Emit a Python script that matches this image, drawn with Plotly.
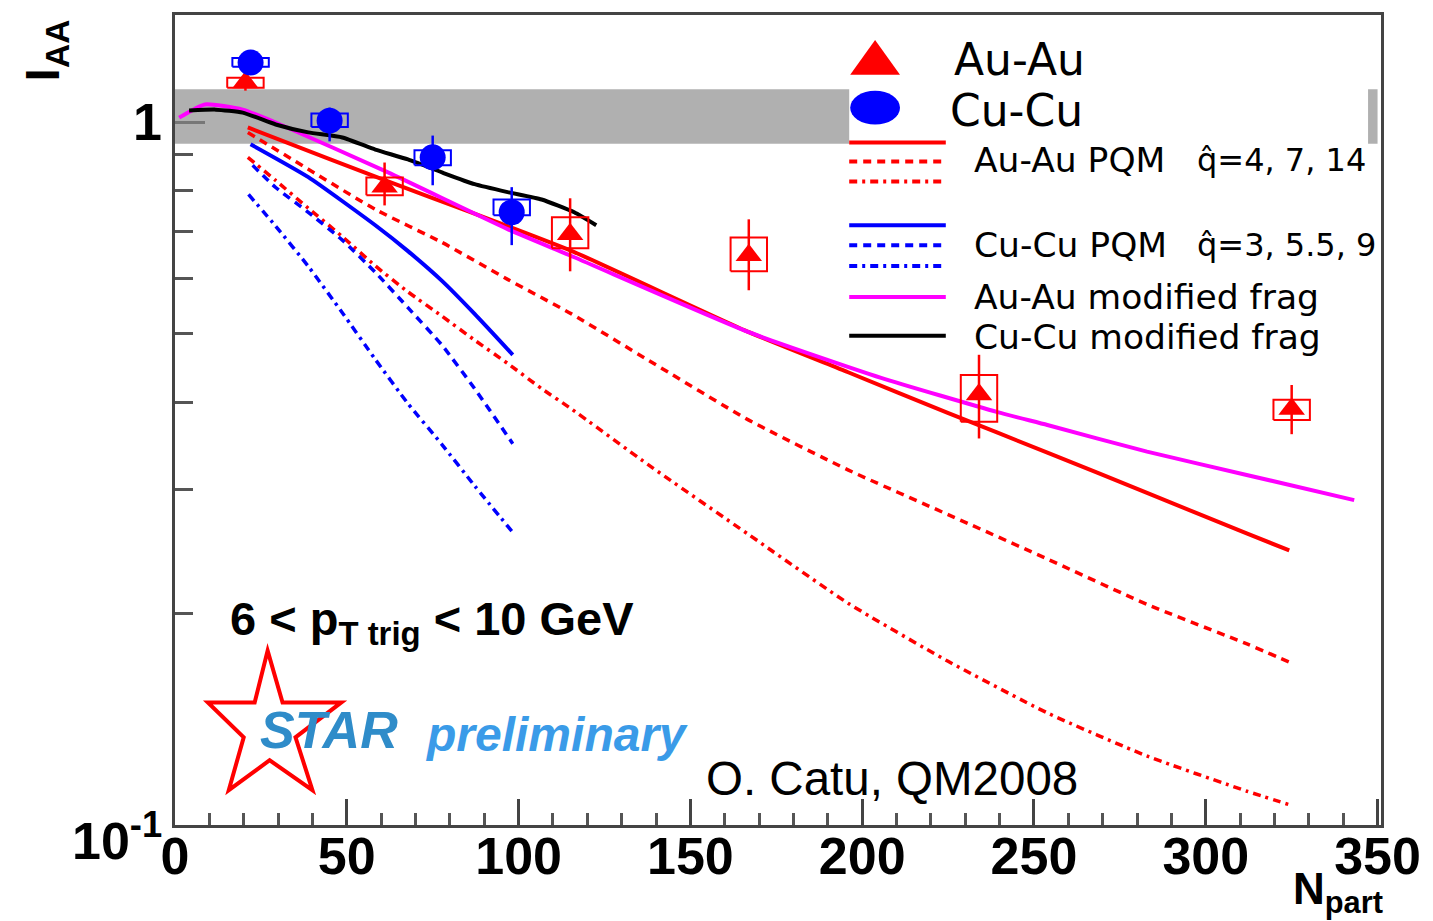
import numpy as np
import plotly.graph_objects as go

# ---------------- data ----------------
au_npart   = [20.5, 61, 115, 167, 234, 325]
au_iaa     = [1.14, 0.81, 0.693, 0.647, 0.410, 0.391]
au_stat_hi = [1.17, 0.877, 0.780, 0.728, 0.467, 0.423]
au_stat_lo = [1.11, 0.762, 0.614, 0.577, 0.355, 0.360]
au_sys_hi  = [1.158, 0.835, 0.733, 0.686, 0.437, 0.403]
au_sys_lo  = [1.121, 0.788, 0.662, 0.614, 0.375, 0.377]

cu_npart   = [22, 45, 75, 98]
cu_iaa     = [1.217, 1.006, 0.892, 0.745]
cu_stat_hi = [1.25, 1.05, 0.958, 0.809]
cu_stat_lo = [1.19, 0.94, 0.814, 0.669]
cu_sys_hi  = [1.235, 1.03, 0.913, 0.777]
cu_sys_lo  = [1.20, 0.985, 0.869, 0.738]
sys_halfwidth = 5.3

# normalisation band
band_x = [0, 350]
band_lo, band_hi = 0.933, 1.115

# PQM Au-Au (qhat = 4, 7, 14)
au_q4_n  = [21.2, 45.2, 74.2, 96.8, 116.2, 167, 195.9, 224.9, 253.9, 282.9, 311.9, 324.3]
au_q4_y  = [0.984, 0.886, 0.783, 0.712, 0.654, 0.503, 0.441, 0.386, 0.339, 0.297, 0.260, 0.246]
au_q7_n  = [21.2, 38.8, 58.3, 77.7, 96.8, 115.4, 138, 167, 196, 225, 254, 283, 312, 325]
au_q7_y  = [0.968, 0.858, 0.752, 0.675, 0.598, 0.534, 0.458, 0.377, 0.320, 0.2766, 0.239, 0.206, 0.181, 0.170]
au_q14_n = [21.2, 29.3, 38.8, 48.7, 58.3, 67.8, 77.7, 87.2, 96.8, 106.7, 115.4, 138, 167, 196, 225, 254, 283, 312, 324]
au_q14_y = [0.892, 0.827, 0.755, 0.688, 0.625, 0.574, 0.530, 0.490, 0.454, 0.418, 0.391, 0.325, 0.259, 0.2067, 0.171, 0.1443, 0.1253, 0.1117, 0.107]

# PQM Cu-Cu (qhat = 3, 5.5, 9)
cu_q3_n  = [22, 38.8, 58.3, 67.8, 77.7, 87.2, 98.3]
cu_q3_y  = [0.931, 0.836, 0.714, 0.656, 0.595, 0.534, 0.467]
cu_q55_n = [22.6, 29.3, 38.8, 48.7, 58.3, 67.8, 77.7, 87.2, 98.3]
cu_q55_y = [0.869, 0.808, 0.745, 0.680, 0.612, 0.545, 0.482, 0.418, 0.349]
cu_q9_n  = [21.4, 29.3, 38.8, 48.7, 58.3, 67.8, 77.7, 87.2, 98]
cu_q9_y  = [0.790, 0.712, 0.624, 0.536, 0.460, 0.398, 0.348, 0.304, 0.262]

# modified fragmentation
au_mf_n = [1.2, 8.7, 19.7, 29.3, 62.0, 96.8, 116.2, 167, 205.5, 239.4, 253.9, 282.9, 311.9, 343.2]
au_mf_y = [1.016, 1.061, 1.043, 1.0, 0.849, 0.705, 0.643, 0.503, 0.433, 0.387, 0.371, 0.340, 0.315, 0.290]
cu_mf_n = [4.1, 11.9, 19.7, 29.3, 38.8, 48.7, 58.3, 67.8, 77.7, 87.2, 96.8, 106.7, 116.2, 122.6]
cu_mf_y = [1.040, 1.043, 1.033, 0.9935, 0.968, 0.952, 0.915, 0.886, 0.849, 0.817, 0.796, 0.777, 0.745, 0.714]

x_major = [0, 50, 100, 150, 200, 250, 300, 350]
y_major = [0.1, 1]
y_major_text = ["10<sup>-1</sup>", "1"]
y_minor = [0.2, 0.3, 0.4, 0.5, 0.6, 0.7, 0.8, 0.9]

# ---------------- layout geometry ----------------
W, H = 1433, 921
ML, MR, MT, MB = 175, 47, 12, 96
PW, PH = W - ML - MR, H - MT - MB


def px(p):
    return (p - ML) / PW


def py(p):
    return (H - MB - p) / PH


RED, BLUE, MAG = "#ff0000", "#0000ff", "#ff00ff"

fig = go.Figure()

# normalisation band
fig.add_trace(go.Scatter(
    x=[band_x[0], band_x[1], band_x[1], band_x[0], band_x[0]],
    y=[band_lo, band_lo, band_hi, band_hi, band_lo],
    fill="toself", fillcolor="#b0b0b0", line=dict(width=0), mode="lines",
    hoverinfo="skip", showlegend=False))

dash_d = "8px,6px"
dash_dd = "8px,5px,3px,5px"

curves = [
    (au_q7_n, au_q7_y, RED, dash_d, 3.5),
    (au_q14_n, au_q14_y, RED, dash_dd, 3.5),
    (cu_q55_n, cu_q55_y, BLUE, dash_d, 3.5),
    (cu_q9_n, cu_q9_y, BLUE, dash_dd, 3.5),
    (cu_q3_n, cu_q3_y, BLUE, "solid", 4),
    (au_q4_n, au_q4_y, RED, "solid", 4),
    (au_mf_n, au_mf_y, MAG, "solid", 4),
    (cu_mf_n, cu_mf_y, "#000000", "solid", 4),
]
for xs, ys, c, d, w in curves:
    fig.add_trace(go.Scatter(x=xs, y=ys, mode="lines",
                             line=dict(color=c, dash=d, width=w, shape="spline", smoothing=0.5),
                             hoverinfo="skip", showlegend=False))


def sys_boxes(ns, lo, hi, hw):
    bx, by = [], []
    for n, l, h in zip(ns, lo, hi):
        bx += [n - hw, n + hw, n + hw, n - hw, n - hw, None]
        by += [l, l, h, h, l, None]
    return bx, by


for ns, ys, slo, shi, tlo, thi, c, sym, sz in [
    (au_npart, au_iaa, au_sys_lo, au_sys_hi, au_stat_lo, au_stat_hi, RED, "triangle-up", 23),
    (cu_npart, cu_iaa, cu_sys_lo, cu_sys_hi, cu_stat_lo, cu_stat_hi, BLUE, "circle", 26),
]:
    bx, by = sys_boxes(ns, slo, shi, sys_halfwidth)
    fig.add_trace(go.Scatter(x=bx, y=by, mode="lines", line=dict(color=c, width=2),
                             hoverinfo="skip", showlegend=False))
    fig.add_trace(go.Scatter(
        x=ns, y=ys, mode="markers",
        marker=dict(symbol=sym, size=sz, color=c, line=dict(width=0)),
        error_y=dict(type="data", symmetric=False,
                     array=[h - y for h, y in zip(thi, ys)],
                     arrayminus=[y - l for l, y in zip(tlo, ys)],
                     color=c, thickness=2.5, width=0),
        showlegend=False))

shapes = []
# white legend box covering the band
shapes.append(dict(type="rect", xref="paper", yref="paper", x0=px(852), x1=px(1373), y0=py(352), y1=py(24),
                   fillcolor="white", line=dict(width=0), layer="above"))
# legend symbols
shapes.append(dict(type="path", xref="paper", yref="paper",
                   path=f"M {px(853)} {py(72)} L {px(903)} {py(72)} L {px(878)} {py(37)} Z",
                   fillcolor=RED, line=dict(width=0), layer="above"))
shapes.append(dict(type="circle", xref="paper", yref="paper", x0=px(853), x1=px(903), y0=py(122), y1=py(88),
                   fillcolor=BLUE, line=dict(width=0), layer="above"))
leg_lines = [(140, RED, "solid"), (159, RED, dash_d), (179, RED, dash_dd),
             (223, BLUE, "solid"), (243, BLUE, dash_d), (264, BLUE, dash_dd),
             (295, MAG, "solid"), (334, "#000000", "solid")]
for yy, c, d in leg_lines:
    shapes.append(dict(type="line", xref="paper", yref="paper", x0=px(852), x1=px(949), y0=py(yy), y1=py(yy),
                       line=dict(color=c, width=4, dash=d), layer="above"))

# STAR logo star
star = [(268, 650), (283, 702), (342, 702), (296, 737), (313, 790), (270, 760),
        (229, 790), (244, 737), (208, 702), (255, 702)]
path = "M " + " L ".join(f"{px(a)} {py(b)}" for a, b in star) + " Z"
shapes.append(dict(type="path", xref="paper", yref="paper", path=path,
                   line=dict(color=RED, width=4), fillcolor="rgba(0,0,0,0)", layer="above"))

ann = []
LEGF = "DejaVu Sans"
ann.append(dict(text="Au-Au", x=px(955), y=py(57), xanchor="left", yanchor="middle", font=dict(size=44, family=LEGF, color="black")))
ann.append(dict(text="Cu-Cu", x=px(951), y=py(108), xanchor="left", yanchor="middle", font=dict(size=44, family=LEGF, color="black")))
for t, x0, yy, fs in [("Au-Au PQM", 975, 158, 34.5), ("q\u0302=4, 7, 14", 1199, 158, 32),
                      ("Cu-Cu PQM", 975, 243, 34.5), ("q\u0302=3, 5.5, 9", 1199, 243, 32),
                      ("Au-Au modified frag", 975, 295, 34.5), ("Cu-Cu modified frag", 975, 335, 34.5)]:
    ann.append(dict(text=t, x=px(x0), y=py(yy), xanchor="left", yanchor="middle",
                    font=dict(size=fs, family=LEGF, color="black")))

ann.append(dict(text="<b>6 < p<sub>T trig</sub> < 10 GeV</b>", x=px(228), y=py(621), xanchor="left", yanchor="middle",
                font=dict(size=47, family="Liberation Sans", color="black")))
ann.append(dict(text="<b><i>STAR</i></b>", x=px(258), y=py(730), xanchor="left", yanchor="middle",
                font=dict(size=52, family="Liberation Sans", color="#2f8cc9")))
ann.append(dict(text="<b><i>preliminary</i></b>", x=px(424), y=py(734), xanchor="left", yanchor="middle",
                font=dict(size=48, family="Liberation Sans", color="#3a9be8")))
ann.append(dict(text="O. Catu, QM2008", x=px(706), y=py(778), xanchor="left", yanchor="middle",
                font=dict(size=47.5, family="Liberation Sans", color="black")))
ann.append(dict(text="<b>I<sub>AA</sub></b>", x=px(45), y=py(48), xanchor="center", yanchor="middle", textangle=-90,
                font=dict(size=48, family="Liberation Sans", color="black")))
ann.append(dict(text="<b>N<sub>part</sub></b>", x=px(1296), y=py(892), xanchor="left", yanchor="middle",
                font=dict(size=44, family="Liberation Sans", color="black")))
# y tick labels
for v, t, sh in zip(y_major, y_major_text, [-12, 0]):
    ann.append(dict(text=f"<b>{t}</b>", xref="paper", yref="y", x=px(164), y=float(np.log10(v)), yshift=sh,
                    xanchor="right", yanchor="middle",
                    font=dict(size=52, family="Liberation Sans", color="black")))

for a in ann:
    a.setdefault("xref", "paper")
    a.setdefault("yref", "paper")
    a["showarrow"] = False

fig.update_layout(
    width=W, height=H, margin=dict(l=ML, r=MR, t=MT, b=MB),
    plot_bgcolor="white", paper_bgcolor="white",
    shapes=shapes, annotations=ann, showlegend=False,
    xaxis=dict(range=[0, 351], tickvals=x_major, ticktext=[f"<b>{v}</b>" for v in x_major],
               ticks="inside", ticklen=26, tickwidth=3, tickcolor="#444",
               minor=dict(dtick=10, ticks="inside", ticklen=12, tickwidth=3, tickcolor="#555"),
               showline=True, linewidth=3, linecolor="#444", mirror=True, showgrid=False, zeroline=False,
               tickfont=dict(size=52, family="Liberation Sans", color="black"),
               ticklabelstandoff=-16),
    yaxis=dict(type="log", range=[-1, 0.153], tickvals=y_major, showticklabels=False,
               ticks="inside", ticklen=30, tickwidth=3, tickcolor="#777",
               minor=dict(tickvals=y_minor, ticks="inside", ticklen=18, tickwidth=3, tickcolor="#555"),
               showline=True, linewidth=3, linecolor="#444", mirror=True, showgrid=False, zeroline=False),
)

fig.write_html("out.html")
